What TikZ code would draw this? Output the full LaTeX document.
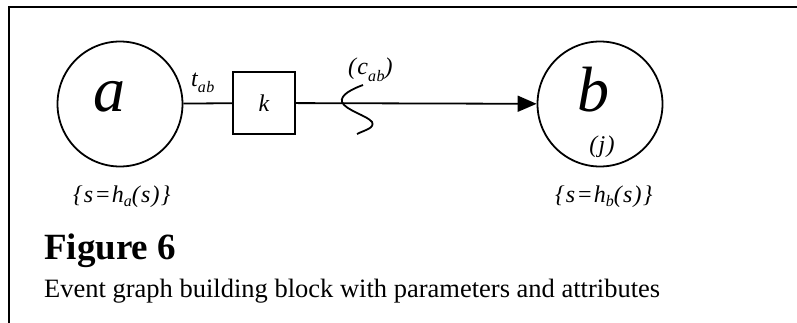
\documentclass[tikz,border=0pt]{standalone}
\usepackage{fontspec}
\setmainfont{Liberation Serif}
\usetikzlibrary{arrows.meta}
\newcommand{\lowsub}[2][5pt]{\raisebox{-#1}{\fontsize{16}{16}\selectfont\addfontfeatures{LetterSpace=3}#2}}
\begin{document}
\begin{tikzpicture}[x=1pt,y=-1pt,
  event/.style={circle,draw,line width=1.8pt,minimum size=125pt,inner sep=0pt},
  edge/.style={line width=1.8pt},
  lbl/.style={inner sep=0pt,anchor=base,font=\fontsize{24}{24}\selectfont\itshape\addfontfeatures{LetterSpace=5}},
  big/.style={inner sep=0pt,anchor=base,font=\fontsize{64}{64}\selectfont\itshape}]
\useasboundingbox (0,0) rectangle (797,323);
\draw[line width=2.5pt] (9,323) -- (9,7) -- (797,7);

\node[event] (a) at (120,104) {};
\node[event] (b) at (600,104) {};
\node[draw,line width=1.8pt,minimum size=62pt,inner sep=0pt,
      font=\fontsize{24}{24}\selectfont\itshape] (k) at (264,103) {k};

\node[big] (la) at (109,112) {a};
\node[big] (lb) at (593,112) {b};
\node[lbl] (lj) at (602,153) {(j)};

\draw[edge] (a) -- (k);
\draw[edge,-{Triangle[length=19pt,width=16pt]}] (k) -- (b);

\node[lbl,anchor=base west] (tab) at (191,87) {t\lowsub[6pt]{ab}};
\node[lbl,anchor=base west] (cab) at (348,75) {(c\lowsub[7pt]{ab})};

\draw[line width=1.8pt] (363,85) .. controls (352,89) and (340,95) .. (342,102)
  .. controls (345,110) and (368,116) .. (372,122)
  .. controls (375,128) and (365,130) .. (357,134);

\node[lbl,anchor=base west] (ha) at (73,202) {\{s=h\lowsub{a}(s)\}};
\node[lbl,anchor=base west] (hb) at (555,202) {\{s=h\lowsub{b}(s)\}};

\node[inner sep=0pt,anchor=base west,font=\fontsize{37}{37}\selectfont\bfseries]
  (fig) at (44,259) {Figure 6};
\node[inner sep=0pt,anchor=base west,font=\fontsize{26.5}{26.5}\selectfont]
  (cap) at (44,297) {Event graph building block with parameters and attributes};
\end{tikzpicture}
\end{document}
